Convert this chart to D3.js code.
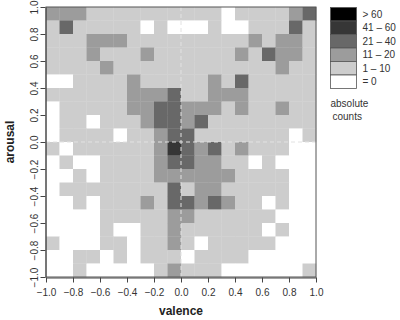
<!DOCTYPE html>
<html>
<head>
<meta charset="utf-8">
<script src="https://cdn.jsdelivr.net/npm/d3@7"></script>
<style>
  body { margin: 0; background: #fff; }
  svg { display: block; font-family: 'Liberation Sans', Arial, sans-serif; }
</style>
</head>
<body>
<div id="chart"></div>
<script>
// lower edge of each valence bin (columns) and arousal bin (rows, top to bottom)
const valenceBins = [-1.0, -0.9, -0.8, -0.7, -0.6, -0.5, -0.4, -0.3, -0.2, -0.1,
  0.0, 0.1, 0.2, 0.3, 0.4, 0.5, 0.6, 0.7, 0.8, 0.9];
const arousalBins = [0.9, 0.8, 0.7, 0.6, 0.5, 0.4, 0.3, 0.2, 0.1, 0.0,
  -0.1, -0.2, -0.3, -0.4, -0.5, -0.6, -0.7, -0.8, -0.9, -1.0];

// count class per cell: 0 = 0, 1 = 1-10, 2 = 11-20, 3 = 21-40, 4 = 41-60, 5 = >60
const countClass = [
  [2,2,2,1,1,1,1,1,1,1, 1,1,1,0,1,1,1,1,2,3],
  [1,3,1,1,1,1,1,0,1,0, 0,0,1,0,0,1,1,1,3,1],
  [1,1,1,2,2,2,1,1,1,1, 1,1,1,1,1,2,1,2,2,1],
  [1,1,1,2,1,1,1,2,1,1, 1,1,1,1,2,1,3,2,2,1],
  [1,1,1,1,2,1,1,1,1,1, 1,1,1,1,1,1,1,2,1,1],
  [0,0,1,1,1,1,2,1,1,1, 1,1,2,1,3,1,1,1,1,1],
  [1,1,1,1,1,1,2,2,2,3, 1,1,2,2,2,1,1,1,1,1],
  [0,1,1,1,1,1,2,2,3,3, 2,2,2,1,2,1,1,2,1,1],
  [0,1,1,0,1,1,1,2,3,3, 2,3,1,1,1,1,1,1,1,1],
  [0,1,1,1,1,0,1,1,2,3, 3,1,1,1,1,1,1,1,0,1],
  [1,0,1,1,1,1,1,1,2,4, 3,2,3,1,2,1,1,1,0,0],
  [0,1,0,0,1,1,1,1,2,3, 3,2,2,1,1,0,1,0,0,0],
  [0,0,1,0,1,1,1,1,2,2, 2,2,2,2,1,1,1,1,0,0],
  [0,1,1,1,1,1,1,1,1,3, 1,2,2,1,1,1,1,1,0,0],
  [0,0,1,0,1,1,1,2,1,3, 3,2,3,2,1,1,0,1,0,0],
  [0,0,0,0,1,1,1,1,1,2, 2,1,1,1,1,1,1,0,0,0],
  [0,0,0,0,1,0,0,1,1,2, 1,1,1,1,1,1,0,1,0,0],
  [1,0,0,0,1,1,0,1,1,2, 1,0,1,1,1,1,1,0,0,0],
  [0,0,1,1,0,1,0,1,1,1, 0,1,1,1,1,0,0,0,0,0],
  [0,0,1,0,0,0,0,0,1,2, 1,1,1,0,0,0,0,0,0,1]
];

const legendClasses = [5, 4, 3, 2, 1, 0];
const legendLabels = ['> 60', '41 \u2013 60', '21 \u2013 40', '11 \u2013 20', '1 \u2013 10', '= 0'];
const tickValues = [-1.0, -0.8, -0.6, -0.4, -0.2, 0.0, 0.2, 0.4, 0.6, 0.8, 1.0];
const binSize = 0.1;

const width = 400;
const height = 320;
const plot = {left: 46, right: 316, top: 7, bottom: 277};

const svg = d3.select('#chart').append('svg')
  .attr('width', width)
  .attr('height', height);

const x = d3.scaleLinear().domain([-1, 1]).range([plot.left, plot.right]);
const y = d3.scaleLinear().domain([-1, 1]).range([plot.bottom, plot.top]);
const color = d3.scaleOrdinal()
  .domain([0, 1, 2, 3, 4, 5])
  .range(['#ffffff', '#cdcdcd', '#9c9c9c', '#686868', '#363636', '#000000']);

// cells
const cells = [];
countClass.forEach((row, r) => {
  row.forEach((c, i) => {
    cells.push({v: valenceBins[i], a: arousalBins[r], c: c});
  });
});

svg.append('g')
  .selectAll('rect')
  .data(cells)
  .enter()
  .append('rect')
  .attr('x', d => x(d.v))
  .attr('y', d => y(d.a + binSize))
  .attr('width', d => x(d.v + binSize) - x(d.v) + 0.3)
  .attr('height', d => y(d.a) - y(d.a + binSize) + 0.3)
  .attr('fill', d => color(d.c));

// dashed zero lines
svg.append('line')
  .attr('x1', x(0)).attr('x2', x(0))
  .attr('y1', plot.top).attr('y2', plot.bottom)
  .style('stroke', '#e2e2e2')
  .style('stroke-dasharray', '4,3');
svg.append('line')
  .attr('x1', plot.left).attr('x2', plot.right)
  .attr('y1', y(0)).attr('y2', y(0))
  .style('stroke', '#e2e2e2')
  .style('stroke-dasharray', '4,3');

// plot box
svg.append('rect')
  .attr('x', plot.left)
  .attr('y', plot.top)
  .attr('width', plot.right - plot.left)
  .attr('height', plot.bottom - plot.top)
  .style('fill', 'none')
  .style('stroke', '#555');

const fmt = d => d3.format('.1f')(d);

// X axis
const xAxis = svg.append('g')
  .attr('transform', 'translate(0,' + (plot.bottom + 0.5) + ')')
  .call(d3.axisBottom(x).tickValues(tickValues).tickFormat(fmt).tickSize(5).tickSizeOuter(0).tickPadding(6));
xAxis.selectAll('text').style('font-size', '10px').style('fill', '#333');

// Y axis
const yAxis = svg.append('g')
  .attr('transform', 'translate(' + (plot.left - 0.5) + ',0)')
  .call(d3.axisLeft(y).tickValues(tickValues).tickFormat(fmt).tickSize(5).tickSizeOuter(0));
yAxis.selectAll('text')
  .attr('x', 0)
  .attr('dy', 0)
  .attr('transform', 'translate(-8,0) rotate(-90)')
  .style('text-anchor', 'middle')
  .style('font-size', '10px')
  .style('fill', '#333');

[xAxis, yAxis].forEach(a => {
  a.select('.domain').style('stroke', '#444');
  a.selectAll('.tick line').style('stroke', '#444');
});

// axis titles
svg.append('text')
  .attr('x', x(0))
  .attr('y', 315)
  .style('text-anchor', 'middle')
  .style('font-size', '12px')
  .style('font-weight', 'bold')
  .style('fill', '#222')
  .text('valence');

svg.append('text')
  .attr('transform', 'translate(14,' + y(0) + ') rotate(-90)')
  .style('text-anchor', 'middle')
  .style('font-size', '12px')
  .style('font-weight', 'bold')
  .style('fill', '#222')
  .text('arousal');

// legend
const legend = svg.append('g').attr('transform', 'translate(330.5,7.5)');
const boxH = 13.5;
legend.selectAll('rect')
  .data(legendClasses)
  .enter()
  .append('rect')
  .attr('x', 0)
  .attr('y', (d, i) => i * boxH)
  .attr('width', 26)
  .attr('height', boxH)
  .attr('fill', d => color(d))
  .style('stroke', '#555')
  .style('stroke-width', 0.8);
legend.selectAll('text.lab')
  .data(legendLabels)
  .enter()
  .append('text')
  .attr('class', 'lab')
  .attr('x', 32)
  .attr('y', (d, i) => i * boxH + boxH / 2 + 3.5)
  .style('font-size', '10px')
  .style('fill', '#333')
  .text(d => d);

legend.append('text')
  .attr('x', 0)
  .attr('y', 99)
  .style('font-size', '10px')
  .style('fill', '#333')
  .text('absolute');
legend.append('text')
  .attr('x', 2)
  .attr('y', 112)
  .style('font-size', '10px')
  .style('fill', '#333')
  .text('counts');
</script>
</body>
</html>
